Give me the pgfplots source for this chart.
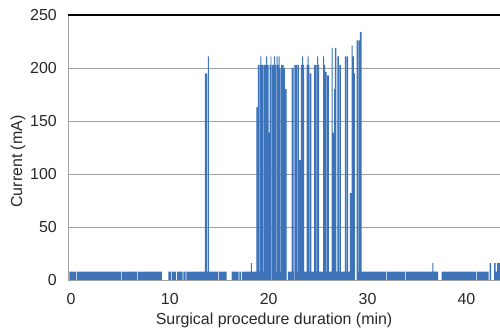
\documentclass[border=0pt]{standalone}
\usepackage{pgfplots}
\pgfplotsset{compat=1.18}
\usepackage{fontspec}
\setmainfont{Liberation Sans}
\definecolor{sigblue}{RGB}{60,115,185}
\definecolor{gridgray}{RGB}{160,160,160}
\definecolor{txt}{RGB}{40,40,40}
\begin{document}
\begin{tikzpicture}
\begin{axis}[
  at={(0,0)}, anchor=south west,
  scale only axis, width=432bp, height=265bp,
  xmin=-0.3, xmax=43.4, ymin=0, ymax=250,
  xtick={0,10,20,30,40},
  ytick={0,50,100,150,200},
  extra y ticks={250},
  extra y tick style={grid style={black, line width=1.1bp}},
  ymajorgrids,
  grid style={gridgray, line width=0.9bp},
  axis x line*=bottom, axis y line*=left,
  axis line style={gridgray, line width=0.9bp, -},
  major tick length=0pt,
  /pgf/number format/assume math mode=true,
  ticklabel style={font=\fontsize{16}{19}\selectfont, text=txt},
  yticklabel style={inner sep=0pt, xshift=-11bp},
  xticklabel style={inner sep=0pt, anchor=north, yshift=-13bp},
  label style={font=\fontsize{16}{19}\selectfont, text=txt},
  xlabel={Surgical procedure duration (min)},
  ylabel={Current (mA)},
  xlabel style={at={(axis description cs:0.477,0)}, anchor=north, inner sep=0pt, yshift=-33bp},
  ylabel style={at={(axis description cs:-0.116,0.447)}, anchor=center, inner sep=0pt},
  clip=true,
]
\addplot[const plot, fill=sigblue, draw=none] coordinates {
(-0.15,7.8)
(0.5,0) (0.58,7.8)
(5.1,0) (5.18,7.8)
(6.7,0) (6.78,7.8)
(9.2,0) (9.85,7.8)
(10.1,0) (10.18,7.8)
(10.65,0) (10.73,7.8)
(11.3,0) (11.38,7.8)
(11.6,0) (11.68,7.8)
(13.55,195) (13.78,7.8) (13.86,211) (13.95,7.8)
(14.9,0) (14.98,7.8)
(15.74,0) (16.25,7.8)
(16.95,0) (17.03,7.8) (17.2,0) (17.28,7.8)
(18.2,16) (18.3,7.8)
(18.75,163) (18.9,203) (19.03,7.8) (19.08,203) (19.15,211) (19.25,203) (19.45,7.8) (19.5,203) (19.75,211) (19.85,203) (20.0,139) (20.1,203) (20.2,211) (20.28,0)
(20.33,203) (20.55,211) (20.65,203) (20.72,7.8) (20.77,203) (20.8,211) (20.9,203) (21.0,211) (21.1,200) (21.22,7.8) (21.27,203) (21.5,200) (21.64,180) (21.81,0) (21.95,7.8)
(22.31,200) (22.5,7.8) (22.55,203) (22.62,0) (22.68,203) (22.9,7.8) (22.95,203) (23.05,113) (23.26,203) (23.39,211) (23.48,203) (23.59,7.8)
(23.83,203) (23.95,211) (24.05,203) (24.12,7.8) (24.17,195) (24.33,7.8)
(24.6,203) (24.78,7.8) (24.83,203) (24.9,211) (25.0,203) (25.1,7.8)
(25.51,211) (25.61,203) (25.7,196) (25.85,7.8) (25.9,193) (26.09,7.8)
(26.36,219) (26.46,139) (26.63,180) (26.69,219) (26.86,7.8)
(26.96,211) (27.1,7.8) (27.15,203) (27.3,7.8)
(27.7,211) (27.85,7.8) (27.9,211) (28.04,7.8)
(28.21,82) (28.38,221) (28.5,211) (28.61,195) (28.72,0) (28.89,226) (29.05,7.8) (29.1,226) (29.22,234) (29.39,7.8)
(31.9,0) (31.98,7.8)
(33.8,0) (33.88,7.8)
(36.55,16) (36.65,7.8)
(37.15,0) (37.5,7.8)
(41.0,0) (41.08,7.8)
(42.25,0) (42.35,16) (42.5,0) (42.8,16) (42.95,7.8) (43.1,16) (43.5,16)
} \closedcycle;
\end{axis}
\pgfresetboundingbox
\path (-68bp,-50bp) rectangle (432bp,280bp);
\end{tikzpicture}
\end{document}
